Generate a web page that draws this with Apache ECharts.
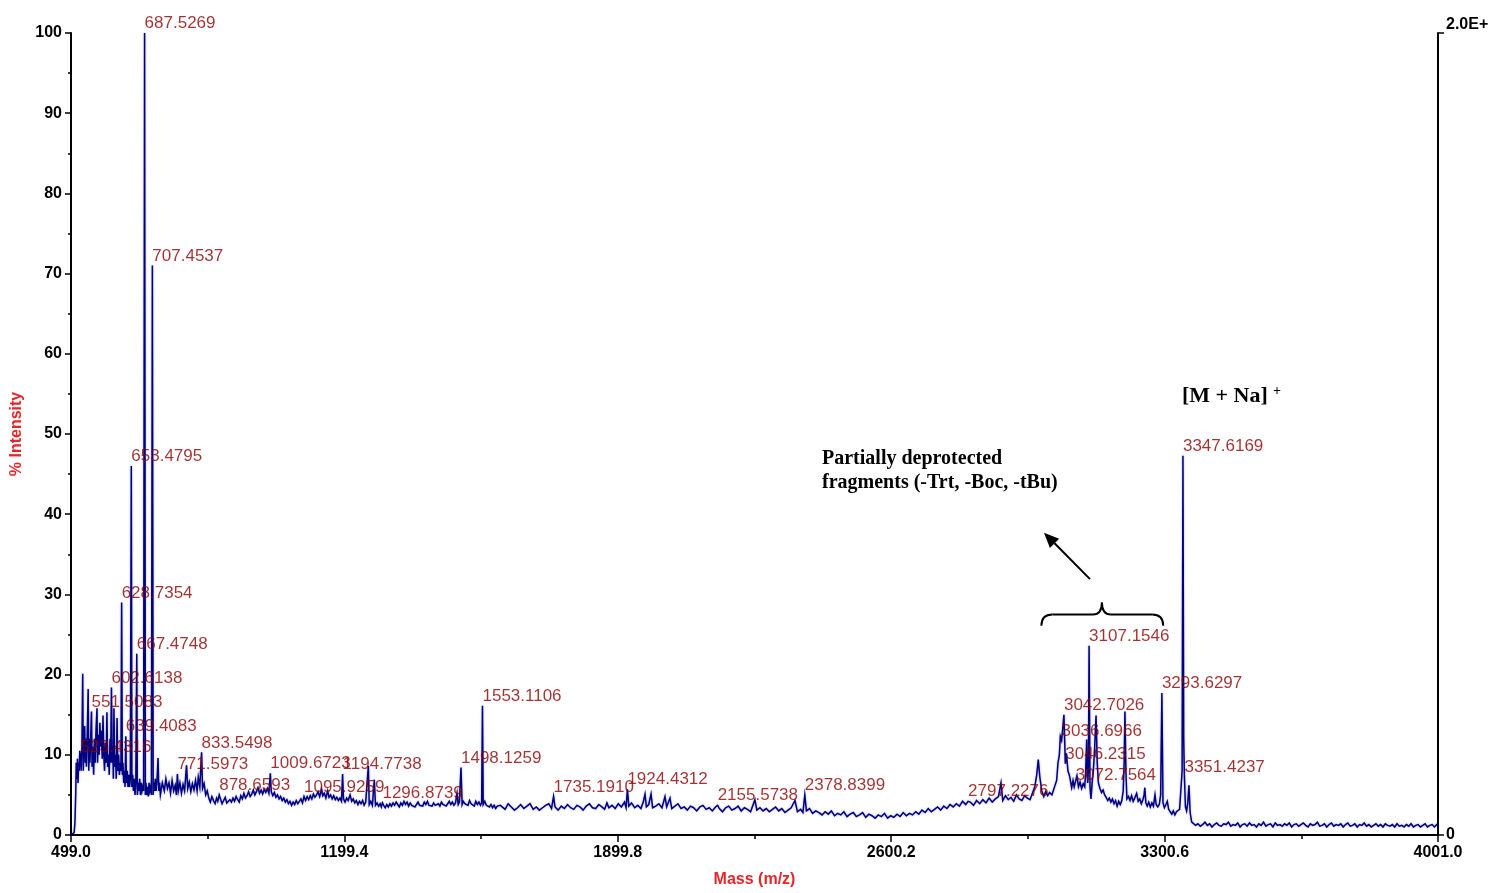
<!DOCTYPE html>
<html>
<head>
<meta charset="utf-8">
<title>MALDI-TOF spectrum</title>
<script src="https://cdn.jsdelivr.net/npm/echarts@6/dist/echarts.min.js"></script>
<style>
  html, body { margin: 0; padding: 0; background: #ffffff; overflow: hidden; }
  #chart { width: 100vw; height: 100vh; }
</style>
</head>
<body>
<div id="chart"></div>
<script>
// ---- Axis ranges and tick labels ----
const massRange = [499.0, 4001.0];
const massTicks = [499.0, 1199.4, 1899.8, 2600.2, 3300.6, 4001.0];
const massMinorTicks = [849.2, 1549.6, 2250.0, 2950.4, 3650.8];
const intensityRange = [0, 100];
const rightAxisValues = [0, 100];
const rightAxisLabels = ['0', '2.0E+'];

// ---- Annotated peaks [m/z, % intensity] ----
const labelledPeaks = [
  [523.4316, 9.7], [551.5083, 15.4], [602.6138, 18.4], [628.7354, 29.0],
  [639.4083, 12.3], [653.4795, 46.0], [667.4748, 22.6], [687.5269, 100.0],
  [707.4537, 71.0], [771.5973, 7.6], [833.5498, 10.3], [878.6593, 5.0],
  [1009.6723, 7.7], [1095.9259, 4.8], [1194.7738, 7.6], [1296.8739, 4.0],
  [1498.1259, 8.4], [1553.1106, 16.1], [1735.1910, 4.8], [1924.4312, 5.7],
  [2155.5738, 3.7], [2378.8399, 5.0], [2797.2276, 4.2], [3036.6966, 11.8],
  [3042.7026, 15.0], [3046.2315, 8.9], [3072.7564, 6.2], [3107.1546, 23.6],
  [3293.6297, 17.7], [3347.6169, 47.3], [3351.4237, 7.2]
];

// ---- Spectrum trace [m/z, % intensity], split by mass region ----
const traceLowMass = [
  [499,0],[504,0],[507,0.3],[509,1.5],[511,5],[512.5,9],[514,7],[515.5,9.5],[517,6.5],[518.5,9],
  [520,8],[521.5,10.5],[525,8],[527,11],[529,20.1],[530.5,8],[532,11],[534,13.6],[535.5,9],[537,12],
  [538.5,8.5],[540,11],[543,18.2],[544.5,8],[546,12],[547.5,9],[549,11.5],[553,8.5],[555,11],[557,7.5],
  [559,12],[561,9],[563,13],[565.6,15.8],[567,9],[569,12.5],[571,10],[573,14],[575,11],[577,13],
  [579,9.5],[581,14.9],[583,10],[585,8],[587,11.5],[589,9],[591,15.3],[593,8.5],[595,10],[597,7.5],
  [599,12],[600.5,9],[604.5,9],[606,11],[607.5,7],[609,15.8],[611,8.5],[613,10],[615,7],[617,14.6],
  [619,8],[621,10],[623,7.5],[625,9],[627,8],[630.5,7.5],[632,9],[634,6.5],[636,8],[637.5,6],
  [641,6.5],[643,8],[645,6],[647,7.5],[649,6],[651,7],[655,6],[657,7.5],[659,5.5],[661,7],
  [663,5],[665,6.5],[669,5],[671,6.5],[673,5.5],[675,7],[677,5],[679,6.5],[681,5.5],[683,6],
  [685,5.5],[689.5,5],[691,6.5],[693,5],[695,6],[697,4.8],[699,6.5],[701,5.5],[703,6],[705,5],
  [709.5,5],[711,6.5],[713,5.5],[715,7],[717,5.5],[719,6.5],[722,9.6],[724,5.5],[726,6.5]
];

const traceMidMass = [
  [728,5],[733,6.5],[738,5.5],[742,7],[746,5.8],[750,6.5],[754,5.2],[758,6.8],[762,5.5],[766,6.2],
  [769,5],[774,5.5],[778,6.5],[782,5.2],[786,6.3],[790,5.5],[795,8.7],[798,5.8],[802,6.6],[806,5.4],
  [810,6.4],[814,5.6],[818,6.8],[822,5.5],[825,7.2],[829,6],[836,5.8],[840,6.4],[844,5],[848,5.5],
  [852,4.6],[856,4.1],[860,4.8],[864,4.3],[868,3.9],[872,4.6],[875,4.2],[882,4.5],[886,3.9],[890,4.3],
  [894,4.7],[898,4.0],[902,3.8],[906,4.4],[910,4.1],[914,4.6],[918,4.2],[922,4.8],[926,4.4],[930,4.1],
  [934,4.9],[938,4.5],[942,5.2],[946,4.6],[950,4.9],[954,5.4],[958,4.8],[962,5.1],[966,5.6],[970,5.0],
  [974,5.4],[978,5.9],[982,5.2],[986,5.6],[990,5.1],[994,5.7],[998,5.3],[1002,5.8],[1006,5.2],[1012,5.4],
  [1016,4.9],[1020,5.3],[1024,4.7],[1028,5.0],[1032,4.5],[1036,4.8],[1040,4.3],[1044,4.6],[1048,4.1],[1052,4.4],
  [1056,3.9],[1060,4.2],[1064,3.7],[1068,4.1],[1072,3.8],[1076,4.3],[1080,3.9],[1084,4.2],[1088,4.5],[1092,4.0],
  [1100,4.3],[1104,4.8],[1108,4.4],[1112,4.9],[1116,4.5],[1120,5.1],[1124,4.7],[1128,5.0],[1132,5.4],[1136,4.8],
  [1141,5.7],[1144,4.9],[1148,5.2],[1152,4.6],[1156.6,5.5],[1160,4.7],[1164,5.0],[1168,4.5],[1172,4.9],[1176,4.4],
  [1180,4.7],[1184,4.3],[1188,4.6],[1192,4.2],[1197,4.5],[1201,4.1],[1205,4.6],[1209,4.3],[1214,5.0],[1218,4.2],
  [1222,4.5],[1226,4.0],[1230,4.3],[1234,3.8],[1238,4.2],[1242,3.9],[1246,4.3],[1250,3.7],[1254,4.1],[1258,3.9],
  [1260.7,8.6],[1263,3.8],[1267,4.2],[1271,3.7],[1276,6.9],[1279,3.7],[1283,4.0],[1287,3.6],[1291,3.9],[1294,3.5],
  [1300,3.7],[1304,3.4],[1308,3.8],[1312,3.5],[1316,3.9],[1320,3.6],[1324,4.0],[1328,3.7],[1332,4.1],[1336,3.8],
  [1340,3.5],[1344,4.0],[1348,3.7],[1352,4.2],[1356,3.8],[1360,4.1],[1364,3.6],[1368,4.0],[1372,3.7],[1376,3.9],
  [1380,3.5],[1384,3.8],[1388,4.1],[1392,3.7],[1396,3.9],[1400,3.6],[1404,4.1],[1408,3.8],[1412,4.2],[1416,3.7],
  [1420,3.9],[1424,3.6],[1428,4.0],[1432,3.7],[1436,3.5],[1440,3.9],[1444,3.6],[1448,4.1],[1452,3.8],[1456,4.0],
  [1460,3.6],[1464,3.9],[1468,4.2],[1472,3.8],[1476,4.1],[1480,3.7],[1484,4.0],[1488,5.2],[1491,3.8],[1494,4.1],
  [1501,3.8],[1504,4.2],[1508,3.9],[1512,4.1],[1516,3.7],[1520,4.3],[1524,3.9],[1528,4.0],[1532,3.6],[1536,4.2],
  [1540,3.8],[1544,4.1],[1548,3.7],[1551,4.0],[1555,3.8],[1559,4.2],[1563,3.7],[1567,3.9],[1571,3.5],[1575,3.8],
  [1579,3.4],[1583,3.7],[1587,3.3],[1591,3.6],[1595,3.4],[1599,3.7]
];

const traceBaseline = [
  [1603,3.6],[1611,3.2],[1619,3.9],[1627,3.5],[1635,3.1],[1643,3.4],[1651,3.8],[1659,3.3],[1667,3.6],[1675,3.9],
  [1683,3.2],[1691,3.5],[1699,3.1],[1707,3.4],[1715,3.7],[1723,3.9],[1730,3.3],[1739,3.5],[1747,3.1],[1755,3.6],
  [1763,3.3],[1771,3.8],[1779,3.4],[1787,3.2],[1795,3.7],[1803,3.5],[1811,3.1],[1819,3.6],[1827,3.9],[1835,3.4],
  [1843,3.3],[1851,3.8],[1859,3.5],[1866,3.2],[1872,4.0],[1877,3.4],[1885,3.7],[1893,3.3],[1901,3.9],[1909,3.5],
  [1917,4.1],[1921,3.4],[1928,3.6],[1935,4.0],[1943,3.4],[1951,3.7],[1959,3.3],[1965,4.1],[1969.5,5.1],[1973,3.5],
  [1979,3.8],[1985,5.1],[1989,3.4],[1997,3.6],[2005,3.9],[2013,3.4],[2020.7,4.8],[2025,3.5],[2033.5,4.6],[2038,3.3],
  [2046,3.6],[2054,3.9],[2062,3.3],[2070,3.5],[2078,3.1],[2086,3.6],[2094,3.4],[2102,3.0],[2110,3.5],[2118,3.7],
  [2126,3.2],[2134,3.4],[2142,3.0],[2150,3.5],[2160,3.3],[2168,2.9],[2176,3.4],[2184,3.6],[2192,3.1],[2200,3.3],
  [2208,3.6],[2216,3.0],[2224,3.4],[2232,3.2],[2240,2.9],[2251,4.4],[2256,3.1],[2264,3.4],[2272,3.0],[2280,3.3],
  [2288,2.9],[2296,3.2],[2304,3.5],[2312,3.0],[2320,3.3],[2328,2.8],[2336,3.1],[2344,3.4],[2353.7,4.3],[2360,2.9],
  [2368,3.2],[2374,2.8],[2383,3.0],[2391,3.3],[2399,2.7],[2407,3.0],[2415,2.8],[2423,2.5],[2431,2.9],[2439,2.6],
  [2447,3.0],[2455,2.4],[2463,2.7],[2471,2.5],[2479,2.9],[2487,2.3],[2495,2.6],[2503,2.8],[2511,2.3],[2519,2.5],
  [2527,2.8],[2535,2.2],[2543,2.6],[2551,2.4],[2559,2.1],[2567,2.5],[2575,2.3],[2583,2.7],[2591,2.1],[2599,2.4],
  [2607,2.2],[2615,2.6],[2623,2.3],[2631,2.8],[2639,2.4],[2647,2.7],[2655,2.5],[2663,2.9],[2671,2.6],[2679,3.1],
  [2687,2.8],[2695,3.3],[2703,2.9],[2711,3.2],[2719,3.5],[2727,3.1],[2735,3.6],[2743,3.3],[2751,3.8],[2759,3.5],
  [2767,3.9],[2775,3.6],[2783,4.2],[2791,3.8],[2803,4.1],[2811,3.7],[2819,4.3],[2827,3.9],[2835,4.4],[2843,4.0],
  [2851,4.6],[2859,4.1],[2867,4.5],[2875,4.8],[2881.5,6.5],[2886,4.3],[2893,4.9],[2900,4.4],[2907,4.7],[2914,4.2],
  [2921,5.0],[2928,4.5],[2935,4.3],[2942,4.9],[2949,4.6],[2956,4.4]
];

const traceFragments = [
  [2962,5.2],[2968,6.0],[2973,7.5],[2977,9.4],[2981,7.2],[2986,5.5],[2991,4.8],[2996,5.4],[3001,4.9],[3006,5.3],
  [3012,5.0],[3016,5.6],[3020,5.5],[3024,6.8],[3027.5,9.0],[3031,10.0],[3033.5,12.3],[3039.5,13.2],[3049,10.2],[3053,8.0],
  [3057,7.4],[3062.5,5.9],[3066,6.8],[3069,6.0],[3076,7.4],[3080,6.0],[3084,6.6],[3088,5.8],[3092,6.4],[3096,6.0],
  [3098.5,8.0],[3101,11.9],[3103.5,6.5],[3105.5,8.0],[3109.5,6.0],[3112,4.5],[3115,6.5],[3118,8.0],[3121,10.5],[3125,14.9],
  [3128,9.0],[3131,6.5],[3135,5.8],[3139,5.3],[3143,5.6],[3147,5.0],[3151,4.7],[3155,4.3],[3159,4.6],[3163,4.1],
  [3167,4.5],[3171,3.9],[3175,4.3],[3179,3.6],[3183,4.2],[3187,3.8],[3191,4.3],[3194.5,5.5],[3197,9.0],[3199,15.4],
  [3201.5,8.0],[3204,4.5],[3208,4.8],[3212,4.3],[3216,4.9],[3220,4.2],[3224,4.6],[3229,5.2],[3233,4.2],[3237,4.5],
  [3241,3.9],[3245,4.4],[3248,5.0],[3250,5.9],[3252.5,4.0],[3256,3.6],[3260,4.1],[3264,3.5],[3268,4.0],[3272,3.6],
  [3276,5.0],[3279,3.8],[3283,3.5],[3287,3.8],[3290.5,5.0],[3296.5,4.0],[3300,3.4],[3304,3.8],[3307.5,4.2],[3311,3.2],
  [3315,2.9],[3319,2.6],[3323,3.0],[3327,2.5],[3331,2.9],[3335,2.7],[3339,3.2],[3342,3.4],[3345.5,8.0],[3349.5,12.0],
  [3354,3.5],[3357,3.0],[3360,4.0],[3363,6.2],[3366,2.8],[3370,1.6]
];

const traceTail = [
  [3374,1.5],[3380,1.2],[3386,1.4],[3392,1.1],[3398,1.3],[3404,1.6],[3410,1.2],[3416,1.4],[3422,1.0],[3428,1.3],
  [3434,1.5],[3440,1.2],[3446,1.1],[3452,1.4],[3458,1.3],[3464,1.6],[3470,1.1],[3476,1.3],[3482,1.2],[3488,1.5],
  [3494,1.0],[3500,1.3],[3506,1.4],[3512,1.1],[3518,1.5],[3524,1.2],[3530,1.3],[3536,1.0],[3542,1.4],[3548,1.2],
  [3554,1.6],[3560,1.1],[3566,1.3],[3572,1.4],[3578,1.0],[3584,1.5],[3590,1.2],[3596,1.3],[3602,1.1],[3608,1.4],
  [3614,1.2],[3620,1.5],[3626,1.0],[3632,1.3],[3638,1.4],[3644,1.1],[3650,1.3],[3656,1.5],[3662,1.2],[3668,1.0],
  [3674,1.4],[3680,1.2],[3686,1.3],[3692,1.6],[3698,1.1],[3704,1.2],[3710,1.4],[3716,1.0],[3722,1.3],[3728,1.5],
  [3734,1.1],[3740,1.3],[3746,1.2],[3752,1.4],[3758,1.0],[3764,1.3],[3770,1.5],[3776,1.1],[3782,1.2],[3788,1.4],
  [3794,1.0],[3800,1.3],[3806,1.2],[3812,1.5],[3818,1.1],[3824,1.3],[3830,1.0],[3836,1.2],[3842,1.4],[3848,1.1],
  [3854,1.3],[3860,1.0],[3866,1.4],[3872,1.2],[3878,1.1],[3884,1.3],[3890,1.0],[3896,1.4],[3902,1.1],[3908,1.2],
  [3914,1.0],[3920,1.3],[3926,1.1],[3932,1.4],[3938,1.0],[3944,1.2],[3950,1.3],[3956,1.0],[3962,1.2],[3968,1.4],
  [3974,1.0],[3980,1.2],[3986,1.3],[3992,1.0],[3998,1.3],[4001,1.2]
];

// ---- Styling ----
const SANS = "'Liberation Sans', Arial, Helvetica, sans-serif";
const SERIF = "'Liberation Serif', 'Times New Roman', Times, serif";
const TRACE_COLOR = '#000080';
const PEAK_LABEL_COLOR = '#8b0000';
const AXIS_NAME_COLOR = '#e5262b';

const tracePoints = [
  ...traceLowMass, ...traceMidMass, ...traceBaseline, ...traceFragments, ...traceTail, ...labelledPeaks
].sort((a, b) => a[0] - b[0]);

const chart = echarts.init(document.getElementById('chart'), null, { renderer: 'canvas' });

const axisText = { color: '#000', fontFamily: SANS, fontWeight: 'bold', fontSize: 16 };

chart.setOption({
  animation: false,
  backgroundColor: '#ffffff',
  grid: { left: 71, right: 56, top: 33, bottom: 54, containLabel: false },
  xAxis: [
    {
      type: 'value',
      min: massRange[0],
      max: massRange[1],
      position: 'bottom',
      name: 'Mass (m/z)',
      nameLocation: 'middle',
      nameGap: 37,
      nameTextStyle: { color: AXIS_NAME_COLOR, fontFamily: SANS, fontWeight: 'bold', fontSize: 16 },
      axisLine: { show: true, onZero: false, lineStyle: { color: '#000', width: 2 } },
      axisTick: { show: true, customValues: massTicks, length: 7, lineStyle: { color: '#000', width: 1.5 } },
      axisLabel: Object.assign({ customValues: massTicks, margin: 10, formatter: v => v.toFixed(1) }, axisText),
      splitLine: { show: false }
    },
    {
      type: 'value',
      min: massRange[0],
      max: massRange[1],
      position: 'bottom',
      axisLine: { show: false },
      axisTick: { show: true, customValues: massMinorTicks, length: 4, lineStyle: { color: '#000', width: 1.5 } },
      axisLabel: { show: false },
      splitLine: { show: false }
    }
  ],
  yAxis: [
    {
      type: 'value',
      min: intensityRange[0],
      max: intensityRange[1],
      interval: 10,
      position: 'left',
      name: '% Intensity',
      nameLocation: 'middle',
      nameRotate: 90,
      nameGap: 38,
      nameTextStyle: { color: AXIS_NAME_COLOR, fontFamily: SANS, fontWeight: 'bold', fontSize: 16 },
      axisLine: { show: true, onZero: false, lineStyle: { color: '#000', width: 2 } },
      axisTick: { show: true, length: 6, lineStyle: { color: '#000', width: 1.5 } },
      minorTick: { show: true, splitNumber: 2, length: 3, lineStyle: { color: '#000', width: 1.5 } },
      axisLabel: Object.assign({ margin: 9 }, axisText),
      splitLine: { show: false }
    },
    {
      type: 'value',
      min: intensityRange[0],
      max: intensityRange[1],
      position: 'right',
      axisLine: { show: true, onZero: false, lineStyle: { color: '#000', width: 2 } },
      axisTick: { show: true, customValues: rightAxisValues, length: 6, lineStyle: { color: '#000', width: 1.5 } },
      axisLabel: Object.assign({
        customValues: rightAxisValues,
        margin: 8,
        formatter: v => v === rightAxisValues[1] ? '{top|' + rightAxisLabels[1] + '}' : rightAxisLabels[0],
        rich: { top: Object.assign({ padding: [0, 0, 16, 0] }, axisText) }
      }, axisText),
      splitLine: { show: false }
    }
  ],
  series: [
    {
      name: 'spectrum',
      type: 'line',
      xAxisIndex: 0,
      yAxisIndex: 0,
      data: tracePoints,
      showSymbol: false,
      symbol: 'none',
      sampling: null,
      silent: true,
      lineStyle: {
        color: TRACE_COLOR, width: 1.5, join: 'miter',
        shadowColor: 'rgba(40,40,170,0.45)', shadowBlur: 2
      },
      z: 2
    },
    {
      name: 'peak labels',
      type: 'scatter',
      xAxisIndex: 0,
      yAxisIndex: 0,
      data: labelledPeaks,
      symbolSize: 0.1,
      itemStyle: { color: 'rgba(0,0,0,0)' },
      silent: true,
      label: {
        show: true,
        position: 'top',
        align: 'left',
        distance: 1,
        color: PEAK_LABEL_COLOR,
        fontFamily: SANS,
        fontSize: 17,
        formatter: p => p.value[0].toFixed(4)
      },
      z: 5
    }
  ]
});

// ---- Annotations, anchored in data space ([m/z, % intensity]) ----
const annotations = {
  fragmentsText: [2423, 48.4],
  adductText: [3345, 54.7],
  arrowTail: [3109.5, 31.9],
  arrowHead: [2991.6, 37.7],
  braceLeft: [2985, 26.1],
  braceRight: [3297, 26.1],
  braceTip: [3140, 29.0],
  braceFlat: 27.5
};

const px = p => chart.convertToPixel({ gridIndex: 0 }, p);

const ft = px(annotations.fragmentsText);
const ad = px(annotations.adductText);
const tail = px(annotations.arrowTail);
const head = px(annotations.arrowHead);
const bl = px(annotations.braceLeft);
const br = px(annotations.braceRight);
const bt = px(annotations.braceTip);
const flatY = px([annotations.braceTip[0], annotations.braceFlat])[1];

// arrow head geometry
const dx = head[0] - tail[0], dy = head[1] - tail[1];
const len = Math.sqrt(dx * dx + dy * dy);
const ux = dx / len, uy = dy / len;
const headLen = 15, headHalf = 6.5;
const baseX = head[0] - ux * headLen, baseY = head[1] - uy * headLen;
const arrowPoly = [
  [head[0], head[1]],
  [baseX - uy * headHalf, baseY + ux * headHalf],
  [baseX + uy * headHalf, baseY - ux * headHalf]
];

// curly brace, built from quadratic curves and straight runs
const braceStroke = { stroke: '#000', lineWidth: 2, fill: null };
const curve = (x1, y1, cx, cy, x2, y2) => ({
  type: 'bezierCurve', z: 10,
  shape: { x1: x1, y1: y1, cpx1: cx, cpy1: cy, x2: x2, y2: y2 },
  style: braceStroke
});
const straight = (x1, x2, y) => ({
  type: 'line', z: 10,
  shape: { x1: x1, y1: y, x2: x2, y2: y },
  style: braceStroke
});
const braceParts = [
  curve(bl[0], bl[1], bl[0], flatY, bl[0] + 11, flatY),
  straight(bl[0] + 11, bt[0] - 9, flatY),
  curve(bt[0] - 9, flatY, bt[0], flatY, bt[0], bt[1]),
  curve(bt[0], bt[1], bt[0], flatY, bt[0] + 9, flatY),
  straight(bt[0] + 9, br[0] - 11, flatY),
  curve(br[0] - 11, flatY, br[0], flatY, br[0], br[1])
];

chart.setOption({
  graphic: [
    {
      type: 'text',
      x: ft[0], y: ft[1],
      z: 10,
      style: {
        text: 'Partially deprotected\nfragments (-Trt, -Boc, -tBu)',
        fill: '#000',
        font: 'bold 20px ' + SERIF,
        lineHeight: 24,
        verticalAlign: 'top',
        align: 'left'
      }
    },
    {
      type: 'text',
      x: ad[0], y: ad[1],
      z: 10,
      style: {
        text: '[M + Na]',
        fill: '#000',
        font: 'bold 22px ' + SERIF,
        verticalAlign: 'middle',
        align: 'left'
      }
    },
    {
      type: 'text',
      x: ad[0] + 91, y: ad[1] - 5,
      z: 10,
      style: {
        text: '+',
        fill: '#000',
        font: 'bold 14px ' + SERIF,
        verticalAlign: 'middle',
        align: 'left'
      }
    },
    {
      type: 'line',
      z: 10,
      shape: { x1: tail[0], y1: tail[1], x2: baseX, y2: baseY },
      style: { stroke: '#000', lineWidth: 2 }
    },
    {
      type: 'polygon',
      z: 10,
      shape: { points: arrowPoly },
      style: { fill: '#000' }
    }
  ].concat(braceParts)
});

window.addEventListener('resize', () => chart.resize());
</script>
</body>
</html>
